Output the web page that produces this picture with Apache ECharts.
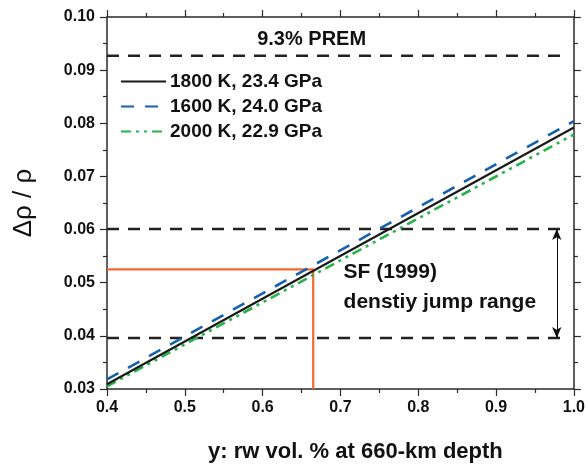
<!DOCTYPE html>
<html><head><meta charset="utf-8">
<script src="https://cdn.jsdelivr.net/npm/echarts@6/dist/echarts.min.js"></script>
<style>html,body{margin:0;padding:0;background:#fff}#c{width:588px;height:468px}</style>
</head><body><div id="c"></div>
<script>
// ---- data ----
const xMin = 0.4, xMax = 1.0, xStep = 0.1;
const yMin = 0.03, yMax = 0.10, yStep = 0.01;
const seriesNames = ['1800 K, 23.4 GPa', '1600 K, 24.0 GPa', '2000 K, 22.9 GPa'];
const xEnds = [0.4, 1.0];
const y1800 = [0.0309, 0.0792];
const y1600 = [0.0318, 0.0804];
const y2000 = [0.0305, 0.0779];
const refLevels = [0.0927, 0.0601, 0.0396];
const refXRange = [0.4, 0.988];
const markY = 0.0525;
const markX = 0.665;
const arrowX = 0.978;
const arrowRange = [0.0601, 0.0396];
const noteTexts = ['9.3% PREM', 'SF (1999)', 'denstiy jump range'];
const noteAnchors = [[0.663, 0.0957], [0.704, 0.0519], [0.704, 0.0463]];
const xTitle = 'y: rw vol. % at 660-km depth';
const yTitle = 'Δρ / ρ';

// ---- chart ----
const FONT = "'Liberation Sans', Arial, sans-serif";
const chart = echarts.init(document.getElementById('c'), null, {renderer: 'canvas'});
const pts = ys => xEnds.map((x, i) => [x, ys[i]]);
const axisCommon = {
  axisLine: {show: true, onZero: false, lineStyle: {color: '#2a2a2a', width: 1.5}},
  axisTick: {show: true, inside: false, length: 7, lineStyle: {color: '#2a2a2a', width: 1.2}},
  minorTick: {show: true, splitNumber: 2, length: 4, lineStyle: {color: '#2a2a2a', width: 1.2}},
  splitLine: {show: false}
};
const labelStyle = {color: '#111', fontFamily: FONT, fontWeight: 'bold', fontSize: 16};
const series = [
  {name: seriesNames[0], type: 'line', data: pts(y1800), symbol: 'none', z: 5,
   lineStyle: {color: '#1a1a1a', width: 2.2, type: 'solid'}, itemStyle: {color: '#1a1a1a'}},
  {name: seriesNames[1], type: 'line', data: pts(y1600), symbol: 'none', z: 4,
   lineStyle: {color: '#1561b0', width: 2.6, type: [13, 11]}, itemStyle: {color: '#1561b0'}},
  {name: seriesNames[2], type: 'line', data: pts(y2000), symbol: 'none', z: 4,
   lineStyle: {color: '#27b24a', width: 2.6, type: [10, 5, 3, 5, 3, 5]}, itemStyle: {color: '#27b24a'}}
];
refLevels.forEach(v => series.push({
  type: 'line', data: refXRange.map(x => [x, v]), symbol: 'none', silent: true, z: 3,
  lineStyle: {color: '#222', width: 2.6, type: [12, 9]}
}));
series.push({
  type: 'line', data: [[xMin, markY], [markX, markY], [markX, yMin]], symbol: 'none', silent: true, z: 3,
  lineStyle: {color: '#f26a2e', width: 2.2}
});
series.push({
  type: 'line', data: [], symbol: 'none', silent: true,
  markLine: {
    silent: true, symbol: ['arrow', 'arrow'], symbolSize: [7, 11],
    lineStyle: {color: '#111', width: 1, type: 'solid'}, label: {show: false},
    data: [[{coord: [arrowX, arrowRange[0]]}, {coord: [arrowX, arrowRange[1]]}]]
  }
});

chart.setOption({
  animation: false,
  backgroundColor: '#fff',
  grid: {left: 107, right: 12, top: 17, bottom: 72, containLabel: false},
  legend: {
    data: seriesNames, orient: 'vertical', left: 120, top: 72, padding: 0,
    itemWidth: 45, itemHeight: 14, itemGap: 6,
    itemStyle: {opacity: 0},
    textStyle: {color: '#111', fontFamily: FONT, fontWeight: 'bold', fontSize: 19, padding: [0, 0, 0, -1]},
    selectedMode: false
  },
  xAxis: [
    Object.assign({type: 'value', min: xMin, max: xMax, interval: xStep, position: 'bottom',
      axisLabel: Object.assign({margin: 11, formatter: v => v.toFixed(1)}, labelStyle),
      name: xTitle, nameLocation: 'middle', nameGap: 52,
      nameTextStyle: {color: '#111', fontFamily: FONT, fontWeight: 'bold', fontSize: 22, padding: [0, 0, 0, 30]}
    }, axisCommon),
    Object.assign({type: 'value', min: xMin, max: xMax, interval: xStep, position: 'top',
      axisLabel: {show: false}}, axisCommon)
  ],
  yAxis: [
    Object.assign({type: 'value', min: yMin, max: yMax, interval: yStep, position: 'left',
      axisLabel: Object.assign({margin: 12, formatter: v => v.toFixed(2)}, labelStyle),
      name: yTitle, nameLocation: 'middle', nameGap: 70, nameRotate: 90,
      nameTextStyle: {color: '#111', fontFamily: FONT, fontWeight: 'normal', fontSize: 26}
    }, axisCommon),
    Object.assign({type: 'value', min: yMin, max: yMax, interval: yStep, position: 'right',
      axisLabel: {show: false}}, axisCommon)
  ],
  series: series
});

const noteStyles = [
  {fontSize: 20, align: 'center'},
  {fontSize: 21, align: 'left'},
  {fontSize: 21, align: 'left'}
];
const graphics = noteTexts.map((t, i) => {
  const p = chart.convertToPixel({xAxisIndex: 0, yAxisIndex: 0}, noteAnchors[i]);
  return {
    type: 'text', x: p[0], y: p[1], z: 10,
    style: {text: t, fill: '#111', font: 'bold ' + noteStyles[i].fontSize + 'px ' + FONT,
      textAlign: noteStyles[i].align, textVerticalAlign: 'middle'}
  };
});
chart.setOption({graphic: graphics});
</script>
</body></html>
